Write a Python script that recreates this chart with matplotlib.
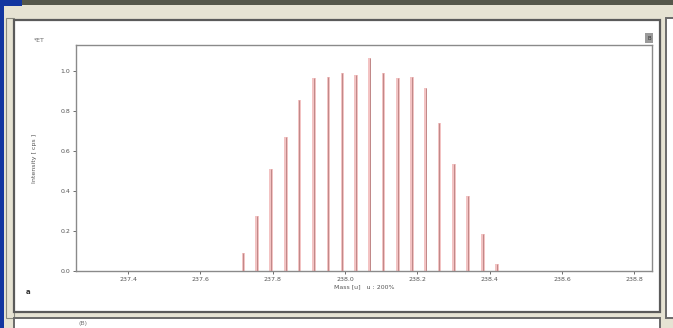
import numpy as np
import matplotlib; matplotlib.use("Agg")
import matplotlib.pyplot as plt
from matplotlib.patches import Rectangle

# peak positions (u) and relative intensities
mass = [237.719, 237.757, 237.796, 237.836, 237.874, 237.914, 237.954, 237.993,
        238.030, 238.068, 238.106, 238.146, 238.185, 238.223, 238.261, 238.302,
        238.340, 238.381, 238.420]
intensity = [0.092, 0.276, 0.51, 0.669, 0.853, 0.965, 0.97, 0.99, 0.978, 1.062,
             0.99, 0.962, 0.97, 0.915, 0.739, 0.532, 0.373, 0.184, 0.037]
yticks = [0.0, 0.2, 0.4, 0.6, 0.8, 1.0]
xticks = [237.4, 237.6, 237.8, 238.0, 238.2, 238.4, 238.6, 238.8]

W, H = 673, 328
fig = plt.figure(figsize=(W/100, H/100), dpi=100)
fig.patch.set_facecolor("#e6e3d3")

def box(x, y, w, h, fc="none", ec="none", lw=1.0, z=0):
    # rectangle in screen pixels (origin top-left)
    fig.add_artist(Rectangle((x/W, 1-(y+h)/H), w/W, h/H, transform=fig.transFigure,
                             facecolor=fc, edgecolor=ec, lw=lw, zorder=z))

# window chrome
box(0, 0, W, 5, fc="#55574a")
box(0, 0, 22, 6, fc="#1236a0")
box(0, 0, 4, H, fc="#1236a0")
box(6, 18, 8, 300, ec="#8a8a80", lw=0.8)
box(14, 20, 646, 292, fc="white", ec="#5a5a5a", lw=1.6)
box(666, 18, 10, 300, fc="white", ec="#6a6a6a", lw=1.4)
box(14, 318, 646, 20, fc="white", ec="#6a6a6a", lw=1.4)
fig.text(83/W, 1-323/H, "(B)", fontsize=4.5, color="#777777", ha="center", va="center")

ax = fig.add_axes([76/W, 1-271/H, 576/W, 226/H])
ax.set_facecolor("white")
ax.bar(mass, intensity, width=0.010, color="#f3c3c3", edgecolor="none", zorder=2)
ax.vlines(mass, 0, intensity, color="#c08888", lw=0.7, zorder=3)
ax.set_xlim(237.256, 238.849)
ax.set_ylim(0, 1.128)
ax.set_xticks(xticks)
ax.set_xticklabels([f"{v:.1f}" for v in xticks])
ax.set_yticks(yticks)
ax.set_yticklabels([f"{v:.1f}" for v in yticks])
ax.tick_params(labelsize=4.5, colors="#555555", length=2, width=0.6, pad=2)
for s in ax.spines.values():
    s.set_color("#8a8a8a"); s.set_linewidth(1.0)
ax.set_xlabel("Mass [u]   u : 200%", fontsize=4.5, color="#555555", labelpad=2)
ax.set_ylabel("Intensity [ cps ]", fontsize=4.5, color="#555555", labelpad=17)

fig.text(39/W, 1-41/H, "*ET", fontsize=4.5, color="#666666", ha="center", va="center")
fig.text(28/W, 1-292/H, "a", fontsize=5, color="#333333", ha="center", va="center", weight="bold")
box(645, 33, 8, 10, fc="#9a9a9a", z=5)
fig.text(649/W, 1-38/H, "B", fontsize=4, color="#333333", ha="center", va="center", zorder=6)

fig.savefig("out.png", dpi=100)
